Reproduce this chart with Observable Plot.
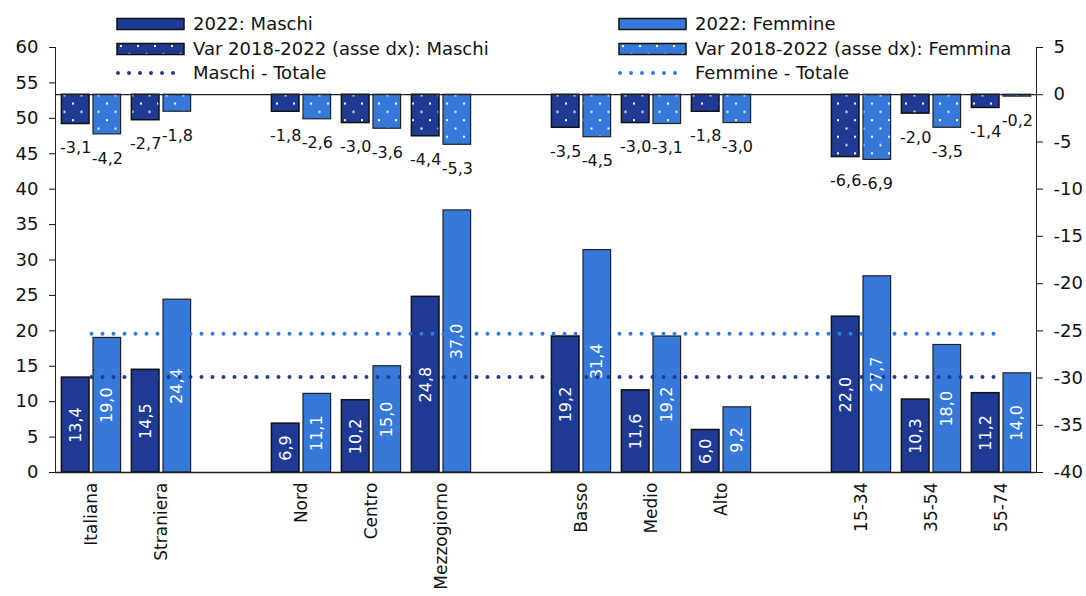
<!DOCTYPE html>
<html>
<head>
<meta charset="utf-8">
<script src="https://cdn.jsdelivr.net/npm/d3@7"></script>
<script src="https://cdn.jsdelivr.net/npm/@observablehq/plot@0.6"></script>
<style>
  body { margin: 0; background: #fff; font-family: "DejaVu Sans", sans-serif; }
  #wrap { position: relative; width: 1086px; height: 596px; overflow: hidden; }
  .lg { position: absolute; display: flex; align-items: center; font-size: 18px; color: #111; white-space: nowrap; line-height: 1; }
  .lg svg { margin-right: 8px; }
</style>
</head>
<body>
<svg width="0" height="0" style="position:absolute">
  <defs>
    <pattern id="patM" width="17" height="16.6" patternUnits="userSpaceOnUse">
      <rect width="17" height="16.6" fill="#1f3a93"/>
      <rect x="4" y="3" width="2" height="2" fill="#fff"/>
      <rect x="12.5" y="11.3" width="2" height="2" fill="#fff"/>
    </pattern>
    <pattern id="patF" width="17" height="16.6" patternUnits="userSpaceOnUse">
      <rect width="17" height="16.6" fill="#3679d9"/>
      <rect x="4" y="3" width="2" height="2" fill="#fff"/>
      <rect x="12.5" y="11.3" width="2" height="2" fill="#fff"/>
    </pattern>
  </defs>
</svg>
<div id="wrap"></div>
<script>
// ---- data ----
const categories = ["Italiana","Straniera","Nord","Centro","Mezzogiorno","Basso","Medio","Alto","15-34","35-54","55-74"];
const xDomain = ["Italiana","Straniera","gap1","Nord","Centro","Mezzogiorno","gap2","Basso","Medio","Alto","gap3","15-34","35-54","55-74"];
const maschi2022 = [13.4, 14.5, 6.9, 10.2, 24.8, 19.2, 11.6, 6.0, 22.0, 10.3, 11.2];
const femmine2022 = [19.0, 24.4, 11.1, 15.0, 37.0, 31.4, 19.2, 9.2, 27.7, 18.0, 14.0];
const varMaschi = [-3.1, -2.7, -1.8, -3.0, -4.4, -3.5, -3.0, -1.8, -6.6, -2.0, -1.4];
const varFemmine = [-4.2, -1.8, -2.6, -3.6, -5.3, -4.5, -3.1, -3.0, -6.9, -3.5, -0.2];
const totaleMaschi = 13.5;
const totaleFemmine = 19.6;
const leftTicks = [0,5,10,15,20,25,30,35,40,45,50,55,60];
const rightTicks = [-40,-35,-30,-25,-20,-15,-10,-5,0,5];

const colM = "#1f3a93", colF = "#3679d9";
const toLeft = v => (v + 40) * 60 / 45;
const fmt = v => v.toFixed(1).replace(".", ",");

const rows = categories.map((c, i) => ({c, m: maschi2022[i], f: femmine2022[i], vm: varMaschi[i], vf: varFemmine[i]}));
const lineM = [{c: categories[0], v: totaleMaschi}, {c: categories[categories.length-1], v: totaleMaschi}];
const lineF = [{c: categories[0], v: totaleFemmine}, {c: categories[categories.length-1], v: totaleFemmine}];

const inA = 5.4, inB = 37;
const off = 15.8;

const chart = Plot.plot({
  width: 1086,
  height: 596,
  marginTop: 47,
  marginBottom: 124,
  marginLeft: 55,
  marginRight: 50,
  style: {fontFamily: "DejaVu Sans, sans-serif", fontSize: "18px", color: "#111", background: "white", overflow: "visible"},
  x: {domain: xDomain, padding: 0, axis: null},
  y: {domain: [0, 60], axis: null},
  marks: [
    Plot.axisX({tickRotate: -90, tickSize: 0, tickPadding: 10, fontSize: 17, label: null,
      tickFormat: d => d.startsWith("gap") ? "" : d}),
    Plot.axisY(leftTicks, {anchor: "left", tickSize: 6, tickPadding: 11, label: null, fontSize: 18}),
    Plot.axisY(rightTicks.map(toLeft), {anchor: "right", tickSize: 6, tickPadding: 11, label: null, fontSize: 18,
      tickFormat: d => String(Math.round(d * 45 / 60 - 40))}),
    Plot.frame({anchor: "left", stroke: "#222"}),
    Plot.frame({anchor: "right", stroke: "#222"}),
    // 2022 bars
    Plot.barY(rows, {x: "c", y: "m", fill: colM, stroke: "#111", strokeWidth: 1.5, insetLeft: inA, insetRight: inB}),
    Plot.barY(rows, {x: "c", y: "f", fill: colF, stroke: "#222", strokeWidth: 1.2, insetLeft: inB, insetRight: inA}),
    // variation bars (right axis)
    Plot.barY(rows, {x: "c", y1: toLeft(0), y2: d => toLeft(d.vm), fill: "url(#patM)", stroke: "#111", strokeWidth: 1.5, insetLeft: inA, insetRight: inB}),
    Plot.barY(rows, {x: "c", y1: toLeft(0), y2: d => toLeft(d.vf), fill: "url(#patF)", stroke: "#222", strokeWidth: 1.2, insetLeft: inB, insetRight: inA}),
    Plot.ruleY([0], {stroke: "#222", strokeWidth: 1.5}),
    Plot.ruleY([toLeft(0)], {stroke: "#222", strokeWidth: 1.2}),
    // labels inside 2022 bars
    Plot.text(rows, {x: "c", y: d => d.m / 2, text: d => fmt(d.m), rotate: -90, fill: "white", fontSize: 16, dx: -off}),
    Plot.text(rows, {x: "c", y: d => d.f / 2, text: d => fmt(d.f), rotate: -90, fill: "white", fontSize: 16, dx: off}),
    // labels for variations
    Plot.text(rows, {x: "c", y: d => toLeft(d.vm), text: d => fmt(d.vm), fill: "#111", fontSize: 16, dx: -off, dy: 24}),
    Plot.text(rows, {x: "c", y: d => toLeft(d.vf), text: d => fmt(d.vf), fill: "#111", fontSize: 16, dx: off, dy: 24}),
    // totals
    Plot.lineY(lineF, {x: "c", y: "v", stroke: colF, strokeWidth: 4, strokeDasharray: "0 11", strokeLinecap: "round"}),
    Plot.lineY(lineM, {x: "c", y: "v", stroke: colM, strokeWidth: 4, strokeDasharray: "0 11", strokeLinecap: "round"})
  ]
});
const wrap = document.getElementById("wrap");
wrap.appendChild(chart);

// legend
const legendItems = [
  {label: "2022: Maschi", kind: "bar", fill: colM, x: 116, y: 24},
  {label: "Var 2018-2022 (asse dx): Maschi", kind: "bar", fill: "url(#patM)", x: 116, y: 48.5},
  {label: "Maschi - Totale", kind: "line", fill: colM, x: 116, y: 73},
  {label: "2022: Femmine", kind: "bar", fill: colF, x: 618, y: 24},
  {label: "Var 2018-2022 (asse dx): Femmina", kind: "bar", fill: "url(#patF)", x: 618, y: 48.5},
  {label: "Femmine - Totale", kind: "line", fill: colF, x: 618, y: 73}
];
for (const it of legendItems) {
  const div = document.createElement("div");
  div.className = "lg";
  div.style.left = it.x + "px";
  div.style.top = (it.y - 10) + "px";
  div.style.height = "20px";
  let sw;
  if (it.kind === "bar") {
    sw = `<svg width="69" height="14"><rect x="1" y="1.5" width="67" height="11" fill="${it.fill}" stroke="#111" stroke-width="1.5"/></svg>`;
  } else {
    sw = `<svg width="69" height="14"><line x1="2" x2="68" y1="7" y2="7" stroke="${it.fill}" stroke-width="4" stroke-dasharray="0 11" stroke-linecap="round"/></svg>`;
  }
  div.innerHTML = sw + `<span>${it.label}</span>`;
  wrap.appendChild(div);
}
</script>
</body>
</html>
